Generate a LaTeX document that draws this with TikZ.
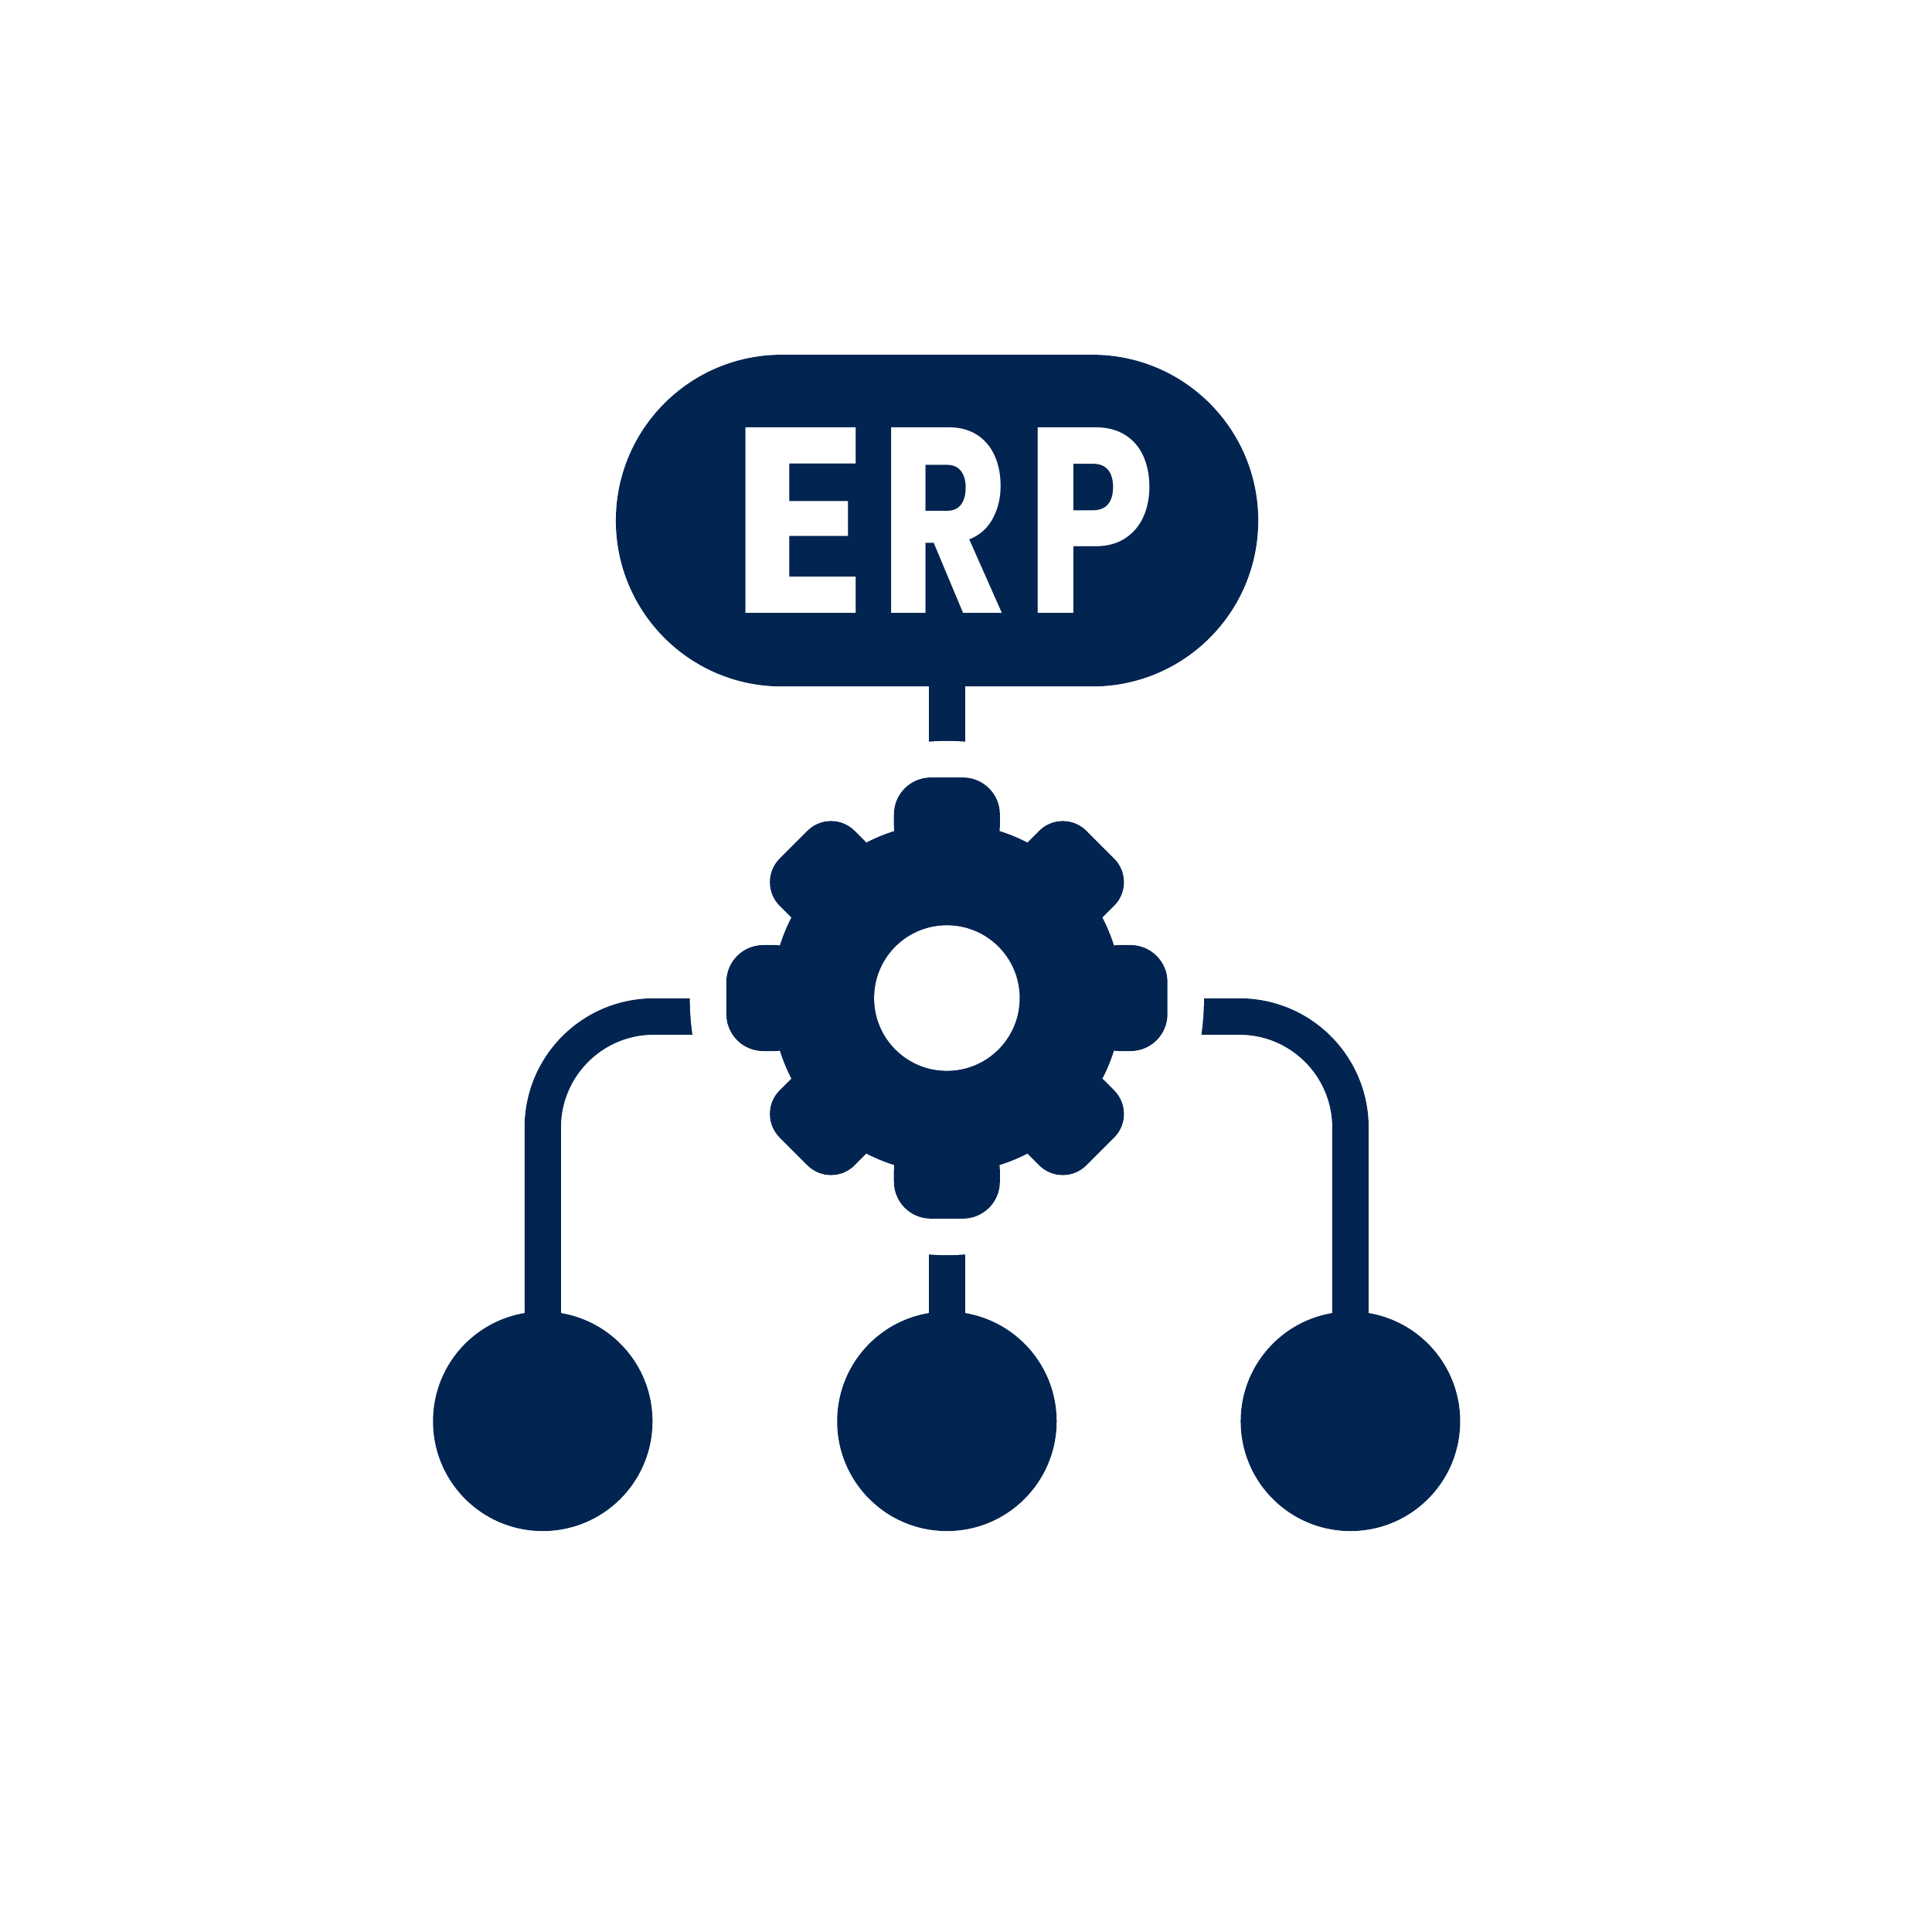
\documentclass[tikz,border=0pt]{standalone}
\usepackage{fontspec}
\usepackage{graphicx}
\newfontfamily\erpfont{Poppins}
\newcommand{\erpletter}[3]{\makebox[#1][l]{\scalebox{#2}[1]{#3}}}
\definecolor{navy}{HTML}{012451}
\tikzset{
  x=0.01cm,y=-0.01cm,
  solidnode/.style={fill=navy,draw=none,inner sep=0pt,outer sep=0pt},
  pillbox/.style={solidnode,rectangle,rounded corners=1.345cm,minimum width=5.21cm,minimum height=2.69cm},
  leaf/.style={solidnode,circle,minimum size=1.78cm},
  conn/.style={draw=navy,line width=0.295cm},
  gapdisc/.style={circle,fill=white,draw=none,inner sep=0pt,outer sep=0pt,minimum size=4.17cm},
  holedisc/.style={circle,fill=white,draw=none,inner sep=0pt,outer sep=0pt,minimum size=1.18cm},
  gearbody/.style={solidnode,circle,minimum size=2.84cm},
  erptext/.style={text=white,inner sep=0pt,outer sep=0pt,font=\erpfont\bfseries\fontsize{61pt}{61pt}\selectfont}
}
\begin{document}
\begin{tikzpicture}
\useasboundingbox (0,0) rectangle (1568,1568);
\fill[white] (0,0) rectangle (1568,1568);
% nodes that connectors attach to
\node[pillbox] (pill) at (760.5,422.5) {};
\node[leaf] (leafL) at (440.5,1153.5) {};
\node[leaf] (leafM) at (768.5,1153.5) {};
\node[leaf] (leafR) at (1096,1153.5) {};
\coordinate (gear) at (768.5,810);
\coordinate (gearL) at (700,825);
\coordinate (gearR) at (836,825);
% connectors
\draw[conn] (pill.center -| gear) -- (gear);
\draw[conn] (gear) -- (leafM.center);
\draw[conn,rounded corners=0.9cm] (leafL.center) |- (gearL);
\draw[conn,rounded corners=0.9cm] (leafR.center) |- (gearR);
% white gap around the gear
\node[gapdisc] (gap) at (gear) {};
% gear
\node[gearbody] (body) at (gear) {};
\foreach \a in {0,90,180,270}{
  \fill[navy,rotate around={\a:(gear)},rounded corners=0.3cm]
    ([shift={(-43,-110)}]gear) -- ([shift={(-43,-179)}]gear) -- ([shift={(43,-179)}]gear) -- ([shift={(43,-110)}]gear) -- cycle;
}
\foreach \a in {45,135,225,315}{
  \fill[navy,rotate around={\a:(gear)},rounded corners=0.27cm]
    ([shift={(-43,-110)}]gear) -- ([shift={(-43,-176)}]gear) -- ([shift={(43,-176)}]gear) -- ([shift={(43,-110)}]gear) -- cycle;
}
\node[holedisc] (hole) at (gear) {};
% label
\node[erptext,anchor=base west] (label) at (592.4,497.5) {\erpletter{34.5pt}{0.97}{E}\erpletter{33.7pt}{0.76}{R}\erpletter{33.7pt}{0.79}{P}};
\end{tikzpicture}
\end{document}
